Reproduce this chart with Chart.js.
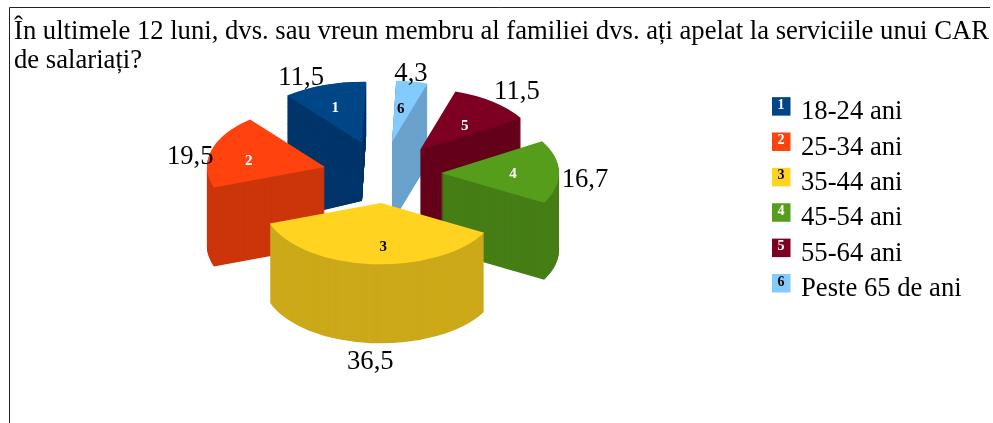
<!DOCTYPE html>
<html><head><meta charset="utf-8">
<style>html,body{margin:0;padding:0;background:#fff}#w{width:993px;height:423px;position:relative}</style>
<script src="https://cdn.jsdelivr.net/npm/chart.js@4/dist/chart.umd.min.js"></script>
</head><body><div id="w"><canvas id="c" width="993" height="423"></canvas></div>
<script>
const titleLines = ["În ultimele 12 luni, dvs. sau vreun membru al familiei dvs. ați apelat la serviciile unui CAR", "de salariați?"];
const categories = ["18-24 ani", "25-34 ani", "35-44 ani", "45-54 ani", "55-64 ani", "Peste 65 de ani"];
const values = [11.5, 19.5, 36.5, 16.7, 11.5, 4.3];
const valueText = ["11,5", "19,5", "36,5", "16,7", "11,5", "4,3"];
const sliceNumbers = ["1", "2", "3", "4", "5", "6"];
const topColors = ["#004586", "#FF420E", "#FFD320", "#579D1C", "#7E0021", "#83CAFF"];
const sideColors = ["#00366B", "#CC350B", "#CCA919", "#467E16", "#65001A", "#69A2CC"];
const numberColors = ["#fff", "#fff", "#000", "#fff", "#fff", "#000"];

// 3D look of the exploded pie
const view = {cx: 384, cy: 171, squash: 0.52};
const explode = [[-22,-28],[-59,-4],[-3,32],[57,2],[36,-21],[8,-29]];
const depth = [58,79,79,77,79,81];
const sideSkew = [0.87,0,0,0,0,0];
const paintOrder = [5,0,4,1,3,2];
const numberRadius = [74,78,83,72,66,64];
const numberNudge = [[-3,2],[-1,5],[9,1],[0,2],[4,3],[-2,0]];
const valueNudge = [[-23,-7],[-21,6],[-1,19],[26,8],[24,-10],[-1,-8]];

const n = values.length;
const rev = a => [...a].reverse();
const SERIF = "'Liberation Serif','Times New Roman',serif";

function drawArcAt(ctx, el, sx, sy, skew) {
  ctx.save();
  ctx.transform(1, -skew, 0, 1, sx, sy);
  ctx.scale(1, view.squash);
  ctx.translate(-el.x, -el.y);
  el.draw(ctx);
  ctx.restore();
}

const pie3d = {
  id: 'pie3d',
  beforeDraw(chart) {
    const ctx = chart.ctx;
    ctx.save();
    ctx.strokeStyle = '#222';
    ctx.lineWidth = 1;
    ctx.beginPath();
    ctx.moveTo(9.5, 423); ctx.lineTo(9.5, 7.5); ctx.lineTo(990, 7.5);
    ctx.stroke();
    ctx.restore();
    chart.legend.left = 763.3;
  },
  beforeDatasetsDraw(chart) {
    const ctx = chart.ctx;
    const arcs = chart.getDatasetMeta(0).data;
    for (const i of paintOrder) {
      const el = arcs[n - 1 - i];
      const sx = view.cx + explode[i][0], sy = view.cy + explode[i][1];
      const base = el.options;
      el.options = Object.assign({}, base, {backgroundColor: sideColors[i]});
      const step = sideSkew[i] ? 0.25 : 1;
      for (let d = depth[i]; d > 0; d -= step) drawArcAt(ctx, el, sx, sy + d, sideSkew[i] * d / depth[i]);
      el.options = base;
      drawArcAt(ctx, el, sx, sy, 0);
    }
    ctx.save();
    ctx.textAlign = 'center';
    ctx.textBaseline = 'middle';
    arcs.forEach((el, k) => {
      const i = n - 1 - k;
      const mid = (el.startAngle + el.endAngle) / 2;
      const sx = view.cx + explode[i][0], sy = view.cy + explode[i][1];
      ctx.font = "bold 15px " + SERIF;
      ctx.fillStyle = numberColors[i];
      ctx.fillText(sliceNumbers[i], sx + Math.cos(mid) * numberRadius[i] + numberNudge[i][0], sy + Math.sin(mid) * numberRadius[i] * view.squash + numberNudge[i][1]);
      const r = el.outerRadius;
      ctx.font = "26.67px " + SERIF;
      ctx.fillStyle = '#000';
      const lift = Math.sin(mid) > 0.5 ? depth[i] : 0;
      ctx.fillText(valueText[i], sx + Math.cos(mid) * r + valueNudge[i][0], sy + Math.sin(mid) * r * view.squash + lift + valueNudge[i][1]);
    });
    ctx.restore();
    return false;
  },
  afterDraw(chart) {
    const ctx = chart.ctx, lg = chart.legend;
    ctx.save();
    ctx.textAlign = 'center';
    ctx.textBaseline = 'middle';
    lg.legendHitBoxes.forEach((b, i) => {
      const x = 772, y = b.top + b.height / 2 - 15;
      ctx.fillStyle = topColors[i];
      ctx.fillRect(x, y, 18.5, 18.5);
      ctx.font = "bold 14px " + SERIF;
      ctx.fillStyle = numberColors[i];
      ctx.fillText(sliceNumbers[i], x + 9, y + 8);
    });
    ctx.restore();
  }
};

new Chart(document.getElementById('c'), {
  type: 'pie',
  data: {
    labels: rev(categories),
    datasets: [{data: rev(values), backgroundColor: rev(topColors), borderWidth: 0, hoverOffset: 0}]
  },
  plugins: [pie3d],
  options: {
    responsive: false,
    animation: false,
    rotation: 2,
    radius: 118,
    layout: {padding: {left: 14, top: 0, right: 0, bottom: 0}},
    events: [],
    plugins: {
      tooltip: {enabled: false},
      title: {
        display: true, text: titleLines, align: 'start', color: '#000',
        font: {family: SERIF, size: 26.67, weight: 'normal', lineHeight: 1.08},
        padding: {top: 18, bottom: 14.5}
      },
      legend: {
        position: 'right', align: 'start', fullSize: false,
        labels: {
          color: '#000', boxWidth: 15.7, boxHeight: 18, padding: 8.7,
          font: {family: SERIF, size: 26.67},
          generateLabels: () => categories.map((t, i) => ({text: t, fillStyle: 'rgba(0,0,0,0)', strokeStyle: 'rgba(0,0,0,0)', lineWidth: 0, index: i}))
        }
      }
    }
  }
});
</script></body></html>
